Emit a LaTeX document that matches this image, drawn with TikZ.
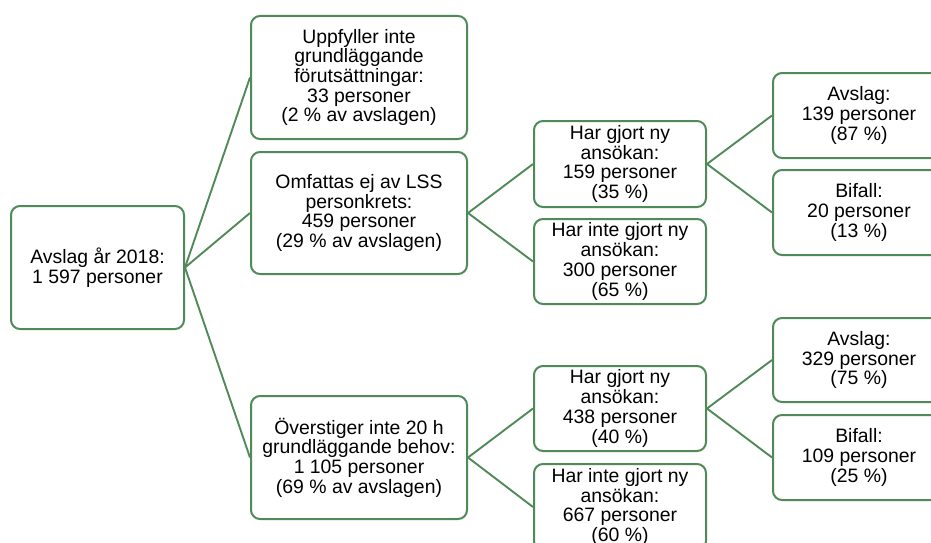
\documentclass[tikz,border=0pt]{standalone}
\usepackage{fontspec}
\setmainfont{Liberation Sans}
\definecolor{grn}{RGB}{80,138,88}
\tikzset{
  box/.style={draw=grn, line width=2pt, rounded corners=9pt, fill=white, align=center,
    font=\fontsize{19.4}{19.7}\selectfont, inner sep=0pt, anchor=north west},
  link/.style={draw=grn, line width=1.9pt}
}
\newcommand{\bx}[6]{% name, x1, y1, x2, y2, text
  \node[box, minimum width=#4pt-#2pt, minimum height=#5pt-#3pt] (#1) at (#2,#3) {#6};}
\begin{document}
\begin{tikzpicture}[x=1pt,y=-1pt]
\useasboundingbox (0,0) rectangle (931,543);
\clip (0,0) rectangle (931,543);
\bx{A}{10}{205}{183}{328}{Avslag år 2018:\\1 597 personer}
\bx{B}{250}{15}{466}{138}{Uppfyller inte\\grundläggande\\förutsättningar:\\33 personer\\(2 \% av avslagen)}
\bx{C}{250}{151}{466}{273}{Omfattas ej av LSS\\personkrets:\\459 personer\\(29 \% av avslagen)}
\bx{D}{250}{395}{466}{518}{Överstiger inte 20 h\\grundläggande behov:\\1 105 personer\\(69 \% av avslagen)}
\bx{E}{533}{120}{705}{206}{Har gjort ny\\ansökan:\\159 personer\\(35 \%)}
\bx{F}{533}{218}{705}{303}{Har inte gjort ny\\ansökan:\\300 personer\\(65 \%)}
\bx{I}{533}{365}{705}{450}{Har gjort ny\\ansökan:\\438 personer\\(40 \%)}
\bx{J}{533}{463}{705}{549}{Har inte gjort ny\\ansökan:\\667 personer\\(60 \%)}
\bx{G}{772}{72}{944}{157}{Avslag:\\139 personer\\(87 \%)}
\bx{H}{772}{169}{944}{254}{Bifall:\\20 personer\\(13 \%)}
\bx{K}{772}{317}{944}{401}{Avslag:\\329 personer\\(75 \%)}
\bx{L}{772}{414}{944}{499}{Bifall:\\109 personer\\(25 \%)}
\draw[link] (A.east) -- (B.west);
\draw[link] (A.east) -- (C.west);
\draw[link] (A.east) -- (D.west);
\draw[link] (C.east) -- (E.west);
\draw[link] (C.east) -- (F.west);
\draw[link] (D.east) -- (I.west);
\draw[link] (D.east) -- (J.west);
\draw[link] (E.east) -- (G.west);
\draw[link] (E.east) -- (H.west);
\draw[link] (I.east) -- (K.west);
\draw[link] (I.east) -- (L.west);
\end{tikzpicture}
\end{document}
